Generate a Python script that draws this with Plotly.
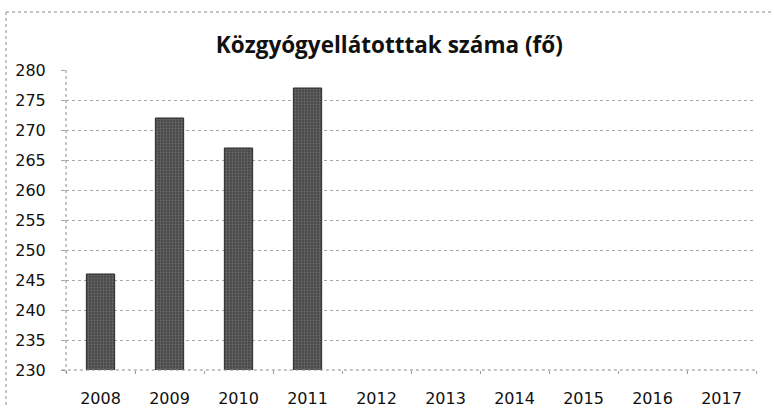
import plotly.graph_objects as go

years = ["2008", "2009", "2010", "2011", "2012", "2013", "2014", "2015", "2016", "2017"]
values = [246, 272, 267, 277, None, None, None, None, None, None]
y_ticks = [230, 235, 240, 245, 250, 255, 260, 265, 270, 275, 280]
title_text = "Közgyógyellátotttak száma (fő)"

tick_font = dict(family="DejaVu Sans", size=16, color="#111111")

fig = go.Figure()
fig.add_trace(go.Bar(
    x=years, y=values,
    width=0.41,
    marker=dict(color="#555555", line=dict(color="#2a2a2a", width=1),
                pattern=dict(shape=".", fgcolor="#8a8a8a", bgcolor="#4a4a4a", size=3, solidity=0.3)),
))

fig.update_layout(
    width=774, height=408,
    margin=dict(l=66, r=18, t=70, b=38, autoexpand=False),
    paper_bgcolor="white", plot_bgcolor="white",
    showlegend=False,
    title=dict(text="<b>" + title_text + "</b>", x=0.503, xanchor="center",
               y=1 - 45 / 408, yanchor="middle", yref="container",
               font=dict(family="Open Sans", size=22.5, color="#111111")),
    font=tick_font,
)
fig.update_yaxes(
    range=[230, 280], tickvals=y_ticks, showgrid=True, automargin=False,
    gridcolor="#a8a8a8", griddash="dot", gridwidth=1,
    ticks="outside", ticklen=4, tickcolor="#a8a8a8",
    showline=False, zeroline=False, ticklabelstandoff=12, tickfont=tick_font,
)
fig.update_xaxes(
    type="category", categoryorder="array", categoryarray=years, automargin=False,
    showgrid=False, showline=False, zeroline=False,
    ticks="outside", tickson="boundaries", ticklen=3, tickcolor="#9a9a9a",
    ticklabelstandoff=17, tickfont=tick_font,
)
# dotted y axis line and x axis line
fig.add_shape(type="line", xref="paper", yref="paper", x0=0, x1=0, y0=-0.01, y1=1,
              line=dict(color="#8a8a8a", width=1, dash="dot"))
fig.add_shape(type="line", xref="paper", yref="paper", x0=-0.006, x1=1, y0=0, y1=0,
              line=dict(color="#8a8a8a", width=1, dash="dot"))
# outer dotted chart border (top and left visible)
fig.add_shape(type="line", xref="paper", yref="paper",
              x0=(6 - 66) / 690, x1=(790 - 66) / 690, y0=(370 - 12) / 300, y1=(370 - 12) / 300,
              line=dict(color="#8a8a8a", width=1, dash="dot"))
fig.add_shape(type="line", xref="paper", yref="paper",
              x0=(6 - 66) / 690, x1=(6 - 66) / 690, y0=(370 - 12) / 300, y1=(370 - 420) / 300,
              line=dict(color="#8a8a8a", width=1, dash="dot"))

fig.write_html("out.html", config={"displayModeBar": False},
               post_script="document.body.style.margin='0';document.body.style.overflow='hidden';")
